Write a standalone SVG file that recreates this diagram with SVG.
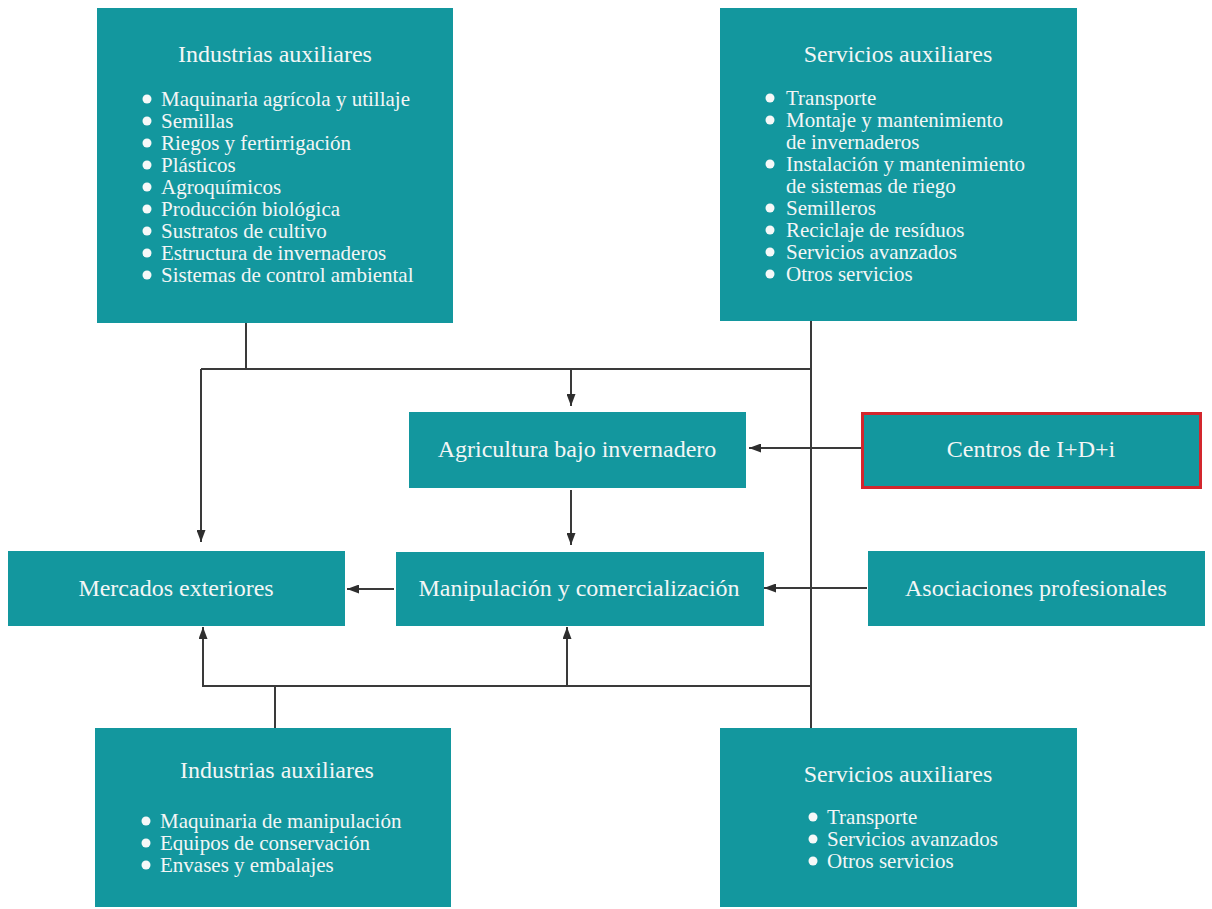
<svg xmlns="http://www.w3.org/2000/svg" width="1212" height="909" viewBox="0 0 1212 909">
<style>
.box{fill:#13979e}
.red{fill:#13979e;stroke:#d3262d;stroke-width:3}
.t{font-family:"Liberation Serif","Times New Roman",serif;fill:#f3f6f6}
.ti{font-size:24px;text-anchor:middle}
.li{font-size:21px}
.lb{font-size:24px;text-anchor:middle}
.dot{fill:#f6f8f8}
.c{fill:none;stroke:#3a3a3a;stroke-width:2}
</style>
<defs>
<marker id="ah" markerUnits="userSpaceOnUse" markerWidth="12" markerHeight="9" refX="12" refY="4.5" orient="auto">
<path d="M0,0 L12,4.5 L0,9 z" fill="#2e2e2e"/>
</marker>
</defs>
<rect width="1212" height="909" fill="#ffffff"/>

<g id="connectors">
<path class="c" d="M246,323 V369"/>
<path class="c" d="M201,369 H811"/>
<path class="c" d="M811,321 V728"/>
<path class="c" d="M201,369 V542" marker-end="url(#ah)"/>
<path class="c" d="M571,369 V406" marker-end="url(#ah)"/>
<path class="c" d="M861,448 H749" marker-end="url(#ah)"/>
<path class="c" d="M571,490 V545" marker-end="url(#ah)"/>
<path class="c" d="M394,589 H347" marker-end="url(#ah)"/>
<path class="c" d="M867,588 H764" marker-end="url(#ah)"/>
<path class="c" d="M202,686 H811"/>
<path class="c" d="M203,686 V627" marker-end="url(#ah)"/>
<path class="c" d="M567,686 V627" marker-end="url(#ah)"/>
<path class="c" d="M275,686 V728"/>
</g>

<g id="ind-aux-top">
<rect class="box" x="97" y="8" width="356" height="315"/>
<text class="t ti" x="275" y="62">Industrias auxiliares</text>
<circle class="dot" cx="147" cy="99" r="4.5"/><text class="t li" x="161" y="106">Maquinaria agrícola y utillaje</text>
<circle class="dot" cx="147" cy="121" r="4.5"/><text class="t li" x="161" y="128">Semillas</text>
<circle class="dot" cx="147" cy="143" r="4.5"/><text class="t li" x="161" y="150">Riegos y fertirrigación</text>
<circle class="dot" cx="147" cy="165" r="4.5"/><text class="t li" x="161" y="172">Plásticos</text>
<circle class="dot" cx="147" cy="187" r="4.5"/><text class="t li" x="161" y="194">Agroquímicos</text>
<circle class="dot" cx="147" cy="209" r="4.5"/><text class="t li" x="161" y="216">Producción biológica</text>
<circle class="dot" cx="147" cy="231" r="4.5"/><text class="t li" x="161" y="238">Sustratos de cultivo</text>
<circle class="dot" cx="147" cy="253" r="4.5"/><text class="t li" x="161" y="260">Estructura de invernaderos</text>
<circle class="dot" cx="147" cy="275" r="4.5"/><text class="t li" x="161" y="282">Sistemas de control ambiental</text>
</g>

<g id="serv-aux-top">
<rect class="box" x="720" y="8" width="357" height="313"/>
<text class="t ti" x="898" y="62">Servicios auxiliares</text>
<circle class="dot" cx="770" cy="98" r="4.5"/><text class="t li" x="786" y="105">Transporte</text>
<circle class="dot" cx="770" cy="120" r="4.5"/><text class="t li" x="786" y="127">Montaje y mantenimiento</text>
<text class="t li" x="786" y="149">de invernaderos</text>
<circle class="dot" cx="770" cy="164" r="4.5"/><text class="t li" x="786" y="171">Instalación y mantenimiento</text>
<text class="t li" x="786" y="193">de sistemas de riego</text>
<circle class="dot" cx="770" cy="208" r="4.5"/><text class="t li" x="786" y="215">Semilleros</text>
<circle class="dot" cx="770" cy="230" r="4.5"/><text class="t li" x="786" y="237">Reciclaje de resíduos</text>
<circle class="dot" cx="770" cy="252" r="4.5"/><text class="t li" x="786" y="259">Servicios avanzados</text>
<circle class="dot" cx="770" cy="274" r="4.5"/><text class="t li" x="786" y="281">Otros servicios</text>
</g>

<g id="agricultura">
<rect class="box" x="409" y="412" width="337" height="76"/>
<text class="t lb" x="577" y="457">Agricultura bajo invernadero</text>
</g>

<g id="centros">
<rect class="red" x="862.5" y="413.5" width="338" height="74"/>
<text class="t lb" x="1031" y="457">Centros de I+D+i</text>
</g>

<g id="mercados">
<rect class="box" x="8" y="551" width="337" height="75"/>
<text class="t lb" x="176" y="596">Mercados exteriores</text>
</g>

<g id="manipulacion">
<rect class="box" x="396" y="552" width="368" height="74"/>
<text class="t lb" x="579" y="596">Manipulación y comercialización</text>
</g>

<g id="asociaciones">
<rect class="box" x="868" y="551" width="337" height="75"/>
<text class="t lb" x="1036" y="596">Asociaciones profesionales</text>
</g>

<g id="ind-aux-bottom">
<rect class="box" x="95" y="728" width="356" height="179"/>
<text class="t ti" x="277" y="778">Industrias auxiliares</text>
<circle class="dot" cx="146" cy="821" r="4.5"/><text class="t li" x="160" y="828">Maquinaria de manipulación</text>
<circle class="dot" cx="146" cy="843" r="4.5"/><text class="t li" x="160" y="850">Equipos de conservación</text>
<circle class="dot" cx="146" cy="865" r="4.5"/><text class="t li" x="160" y="872">Envases y embalajes</text>
</g>

<g id="serv-aux-bottom">
<rect class="box" x="720" y="728" width="357" height="179"/>
<text class="t ti" x="898" y="782">Servicios auxiliares</text>
<circle class="dot" cx="813" cy="817" r="4.5"/><text class="t li" x="827" y="824">Transporte</text>
<circle class="dot" cx="813" cy="839" r="4.5"/><text class="t li" x="827" y="846">Servicios avanzados</text>
<circle class="dot" cx="813" cy="861" r="4.5"/><text class="t li" x="827" y="868">Otros servicios</text>
</g>
</svg>
